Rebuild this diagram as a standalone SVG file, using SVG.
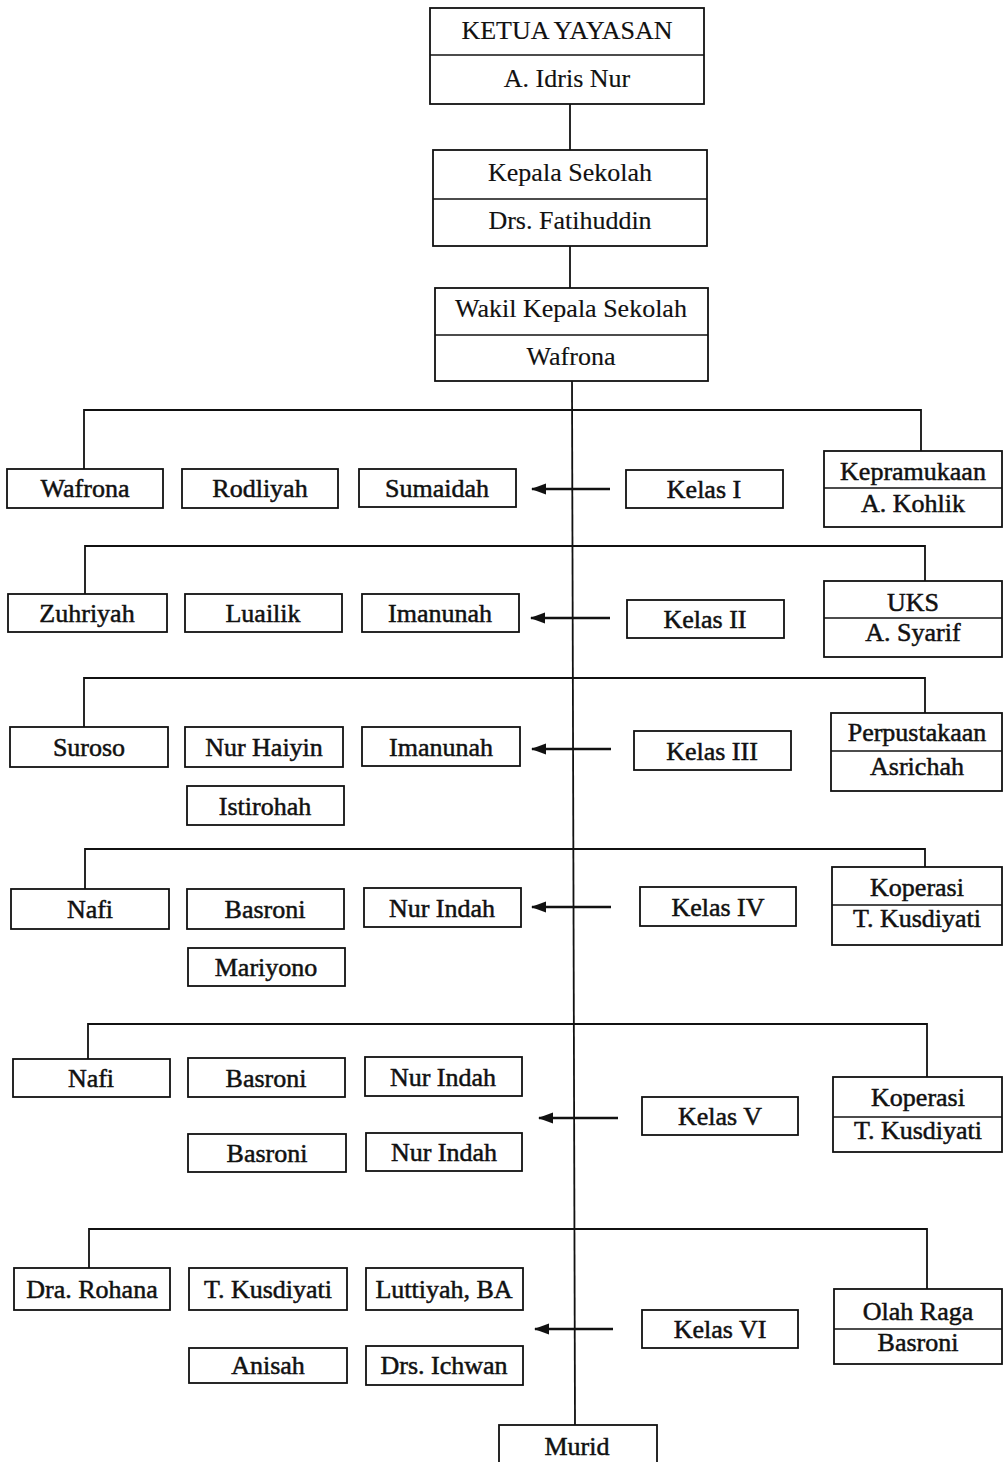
<svg xmlns="http://www.w3.org/2000/svg" width="1003" height="1462" viewBox="0 0 1003 1462">
<defs>
<style>
.b{fill:#fff;stroke:#111;stroke-width:1.8}
.d{stroke:#111;stroke-width:1.6;fill:none}
.t{font-family:"Liberation Serif","Times New Roman",serif;font-size:26px;text-anchor:middle;fill:#111;stroke:#111;stroke-width:0.5}
.top .t{stroke-width:0.15}
.c line,.c polyline{stroke:#111;stroke-width:1.8;fill:none}
.c .a{stroke-width:2.4}
</style>
<marker id="ah" markerUnits="userSpaceOnUse" markerWidth="15" markerHeight="12" refX="14" refY="5.5" orient="auto">
<path d="M0,0 L15,5.5 L0,11 z" fill="#111"/>
</marker>
</defs>
<rect width="1003" height="1462" fill="#fff"/>
<g id="connectors" class="c">
<line x1="570" y1="104" x2="570" y2="150"/>
<line x1="570" y1="246" x2="570" y2="288"/>
<line x1="572" y1="381" x2="575" y2="1425"/>
<polyline points="84,469 84,410 921,410 921,451"/>
<polyline points="85,594 85,546 925,546 925,581"/>
<polyline points="84,727 84,678 925,678 925,713"/>
<polyline points="85,889 85,849 925,849 925,867"/>
<polyline points="88,1059 88,1024 927,1024 927,1077"/>
<polyline points="89,1268 89,1229 927,1229 927,1289"/>
<line class="a" x1="610" y1="489" x2="532" y2="489" marker-end="url(#ah)"/>
<line class="a" x1="610" y1="618" x2="531" y2="618" marker-end="url(#ah)"/>
<line class="a" x1="611" y1="749" x2="532" y2="749" marker-end="url(#ah)"/>
<line class="a" x1="611" y1="907" x2="532" y2="907" marker-end="url(#ah)"/>
<line class="a" x1="618" y1="1118" x2="539" y2="1118" marker-end="url(#ah)"/>
<line class="a" x1="613" y1="1329" x2="535" y2="1329" marker-end="url(#ah)"/>
</g>
<g id="ketua" class="top"><rect class="b" x="430" y="8" width="274" height="96"/><line class="d" x1="430" y1="55" x2="704" y2="55"/><text class="t" x="567" y="39">KETUA YAYASAN</text><text class="t" x="567" y="87">A. Idris Nur</text></g>
<g id="kepala" class="top"><rect class="b" x="433" y="150" width="274" height="96"/><line class="d" x1="433" y1="199" x2="707" y2="199"/><text class="t" x="570" y="181">Kepala Sekolah</text><text class="t" x="570" y="229">Drs. Fatihuddin</text></g>
<g id="wakil" class="top"><rect class="b" x="435" y="288" width="273" height="93"/><line class="d" x1="435" y1="335" x2="708" y2="335"/><text class="t" x="571" y="317">Wakil Kepala Sekolah</text><text class="t" x="571" y="365">Wafrona</text></g>

<g id="r1-wafrona"><rect class="b" x="7" y="469" width="156" height="39"/><text class="t" x="85" y="497">Wafrona</text></g>
<g id="r1-rodliyah"><rect class="b" x="182" y="469" width="156" height="39"/><text class="t" x="260" y="497">Rodliyah</text></g>
<g id="r1-sumaidah"><rect class="b" x="359" y="469" width="157" height="38"/><text class="t" x="437" y="497">Sumaidah</text></g>
<g id="kelas1"><rect class="b" x="626" y="470" width="157" height="38"/><text class="t" x="704" y="498">Kelas I</text></g>
<g id="kepramukaan"><rect class="b" x="824" y="451" width="178" height="76"/><line class="d" x1="824" y1="488" x2="1002" y2="488"/><text class="t" x="913" y="480">Kepramukaan</text><text class="t" x="913" y="512">A. Kohlik</text></g>

<g id="r2-zuhriyah"><rect class="b" x="8" y="594" width="159" height="38"/><text class="t" x="87" y="622">Zuhriyah</text></g>
<g id="r2-luailik"><rect class="b" x="185" y="594" width="157" height="38"/><text class="t" x="263" y="622">Luailik</text></g>
<g id="r2-imanunah"><rect class="b" x="362" y="594" width="157" height="38"/><text class="t" x="440" y="622">Imanunah</text></g>
<g id="kelas2"><rect class="b" x="627" y="600" width="157" height="38"/><text class="t" x="705" y="628">Kelas II</text></g>
<g id="uks"><rect class="b" x="824" y="581" width="178" height="76"/><line class="d" x1="824" y1="618" x2="1002" y2="618"/><text class="t" x="913" y="611">UKS</text><text class="t" x="913" y="641">A. Syarif</text></g>

<g id="r3-suroso"><rect class="b" x="10" y="727" width="158" height="40"/><text class="t" x="89" y="756">Suroso</text></g>
<g id="r3-nurhaiyin"><rect class="b" x="185" y="727" width="158" height="40"/><text class="t" x="264" y="756">Nur Haiyin</text></g>
<g id="r3-imanunah"><rect class="b" x="362" y="727" width="158" height="39"/><text class="t" x="441" y="756">Imanunah</text></g>
<g id="r3-istirohah"><rect class="b" x="187" y="786" width="157" height="39"/><text class="t" x="265" y="815">Istirohah</text></g>
<g id="kelas3"><rect class="b" x="634" y="731" width="157" height="39"/><text class="t" x="712" y="760">Kelas III</text></g>
<g id="perpustakaan"><rect class="b" x="831" y="713" width="171" height="78"/><line class="d" x1="831" y1="751" x2="1002" y2="751"/><text class="t" x="917" y="741">Perpustakaan</text><text class="t" x="917" y="775">Asrichah</text></g>

<g id="r4-nafi"><rect class="b" x="11" y="889" width="158" height="40"/><text class="t" x="90" y="918">Nafi</text></g>
<g id="r4-basroni"><rect class="b" x="187" y="889" width="157" height="40"/><text class="t" x="265" y="918">Basroni</text></g>
<g id="r4-nurindah"><rect class="b" x="364" y="888" width="157" height="39"/><text class="t" x="442" y="917">Nur Indah</text></g>
<g id="r4-mariyono"><rect class="b" x="188" y="948" width="157" height="38"/><text class="t" x="266" y="976">Mariyono</text></g>
<g id="kelas4"><rect class="b" x="640" y="887" width="156" height="39"/><text class="t" x="718" y="916">Kelas IV</text></g>
<g id="koperasi4"><rect class="b" x="832" y="867" width="170" height="78"/><line class="d" x1="832" y1="905" x2="1002" y2="905"/><text class="t" x="917" y="896">Koperasi</text><text class="t" x="917" y="927">T. Kusdiyati</text></g>

<g id="r5-nafi"><rect class="b" x="13" y="1059" width="157" height="38"/><text class="t" x="91" y="1087">Nafi</text></g>
<g id="r5-basroni"><rect class="b" x="188" y="1058" width="157" height="39"/><text class="t" x="266" y="1087">Basroni</text></g>
<g id="r5-nurindah"><rect class="b" x="365" y="1057" width="157" height="39"/><text class="t" x="443" y="1086">Nur Indah</text></g>
<g id="r5-basroni2"><rect class="b" x="188" y="1134" width="158" height="38"/><text class="t" x="267" y="1162">Basroni</text></g>
<g id="r5-nurindah2"><rect class="b" x="366" y="1133" width="156" height="38"/><text class="t" x="444" y="1161">Nur Indah</text></g>
<g id="kelas5"><rect class="b" x="642" y="1097" width="156" height="38"/><text class="t" x="720" y="1125">Kelas V</text></g>
<g id="koperasi5"><rect class="b" x="833" y="1077" width="169" height="75"/><line class="d" x1="833" y1="1117" x2="1002" y2="1117"/><text class="t" x="918" y="1106">Koperasi</text><text class="t" x="918" y="1139">T. Kusdiyati</text></g>

<g id="r6-rohana"><rect class="b" x="14" y="1268" width="156" height="42"/><text class="t" x="92" y="1298">Dra. Rohana</text></g>
<g id="r6-kusdiyati"><rect class="b" x="189" y="1268" width="158" height="42"/><text class="t" x="268" y="1298">T. Kusdiyati</text></g>
<g id="r6-luttiyah"><rect class="b" x="366" y="1268" width="157" height="42"/><text class="t" x="444" y="1298">Luttiyah, BA</text></g>
<g id="r6-anisah"><rect class="b" x="189" y="1348" width="158" height="35"/><text class="t" x="268" y="1374">Anisah</text></g>
<g id="r6-ichwan"><rect class="b" x="366" y="1346" width="157" height="39"/><text class="t" x="444" y="1374">Drs. Ichwan</text></g>
<g id="kelas6"><rect class="b" x="642" y="1310" width="156" height="38"/><text class="t" x="720" y="1338">Kelas VI</text></g>
<g id="olahraga"><rect class="b" x="834" y="1289" width="168" height="75"/><line class="d" x1="834" y1="1329" x2="1002" y2="1329"/><text class="t" x="918" y="1320">Olah Raga</text><text class="t" x="918" y="1351">Basroni</text></g>

<g id="murid"><rect class="b" x="499" y="1425" width="158" height="50"/><text class="t" x="577" y="1455">Murid</text></g>
</svg>
